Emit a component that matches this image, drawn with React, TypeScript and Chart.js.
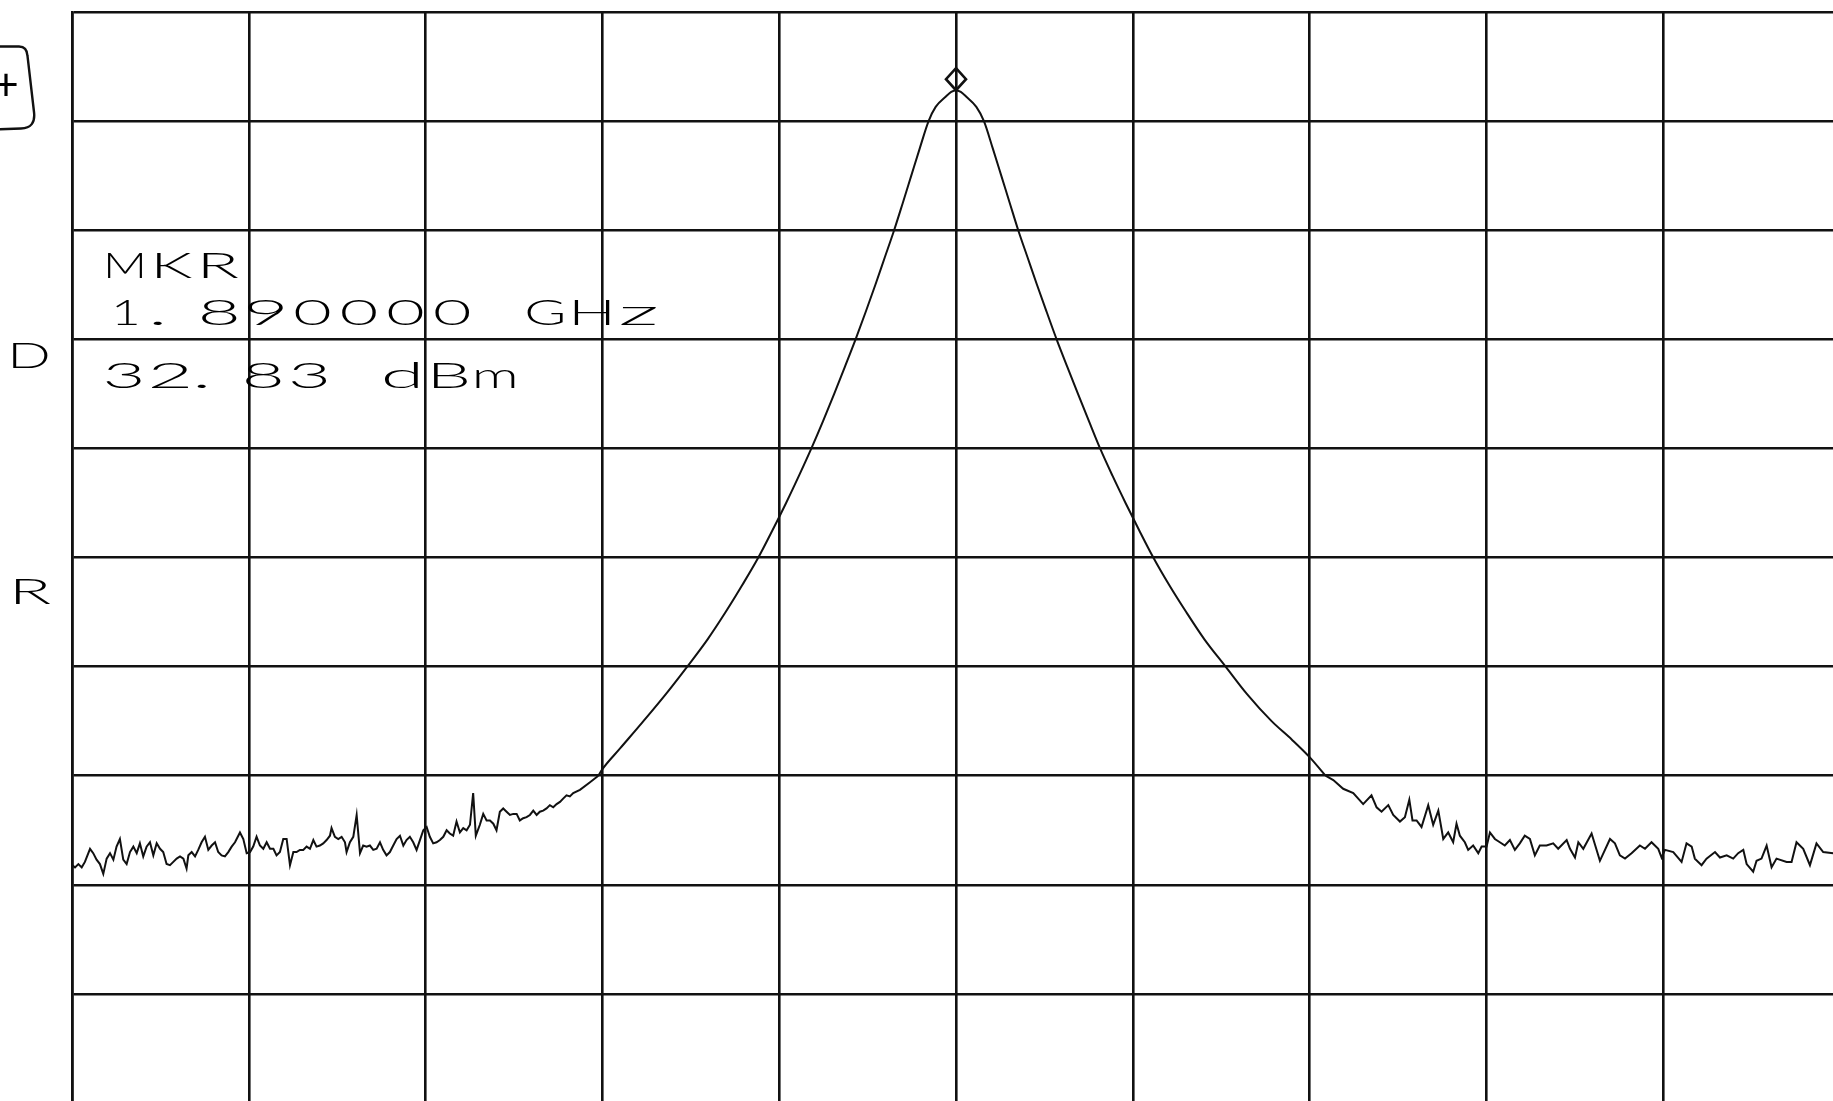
import React, { useEffect, useRef } from "react";
import { Chart, registerables } from "chart.js";

Chart.register(...registerables);

// Horizontal position in graticule divisions (0..10), centre = 1.890000 GHz
const divisions: number[] = [
  0.000, 0.017, 0.036, 0.055, 0.073, 0.102, 0.120, 0.139, 0.158, 0.177,
  0.196, 0.215, 0.234, 0.252, 0.271, 0.290, 0.309, 0.328, 0.347, 0.366,
  0.384, 0.403, 0.422, 0.441, 0.460, 0.479, 0.498, 0.516, 0.535, 0.554,
  0.573, 0.592, 0.611, 0.630, 0.648, 0.658, 0.677, 0.696, 0.714, 0.733,
  0.752, 0.771, 0.790, 0.809, 0.827, 0.846, 0.865, 0.884, 0.903, 0.922,
  0.950, 0.969, 0.988, 1.007, 1.025, 1.044, 1.063, 1.082, 1.101, 1.120,
  1.139, 1.157, 1.176, 1.195, 1.214, 1.233, 1.252, 1.270, 1.289, 1.308,
  1.327, 1.346, 1.365, 1.383, 1.402, 1.421, 1.440, 1.459, 1.468, 1.487,
  1.506, 1.525, 1.544, 1.553, 1.572, 1.591, 1.610, 1.629, 1.647, 1.666,
  1.685, 1.704, 1.723, 1.742, 1.760, 1.779, 1.798, 1.817, 1.836, 1.855,
  1.874, 1.892, 1.911, 1.930, 1.949, 1.968, 1.987, 2.006, 2.024, 2.043,
  2.062, 2.081, 2.100, 2.119, 2.137, 2.156, 2.175, 2.194, 2.213, 2.232,
  2.251, 2.269, 2.284, 2.307, 2.326, 2.345, 2.364, 2.383, 2.401, 2.420,
  2.439, 2.458, 2.477, 2.496, 2.515, 2.533, 2.552, 2.571, 2.590, 2.609,
  2.628, 2.646, 2.665, 2.684, 2.703, 2.722, 2.741, 2.760, 2.778, 2.797,
  2.816, 2.835, 2.873, 2.930, 2.977,
  3.000, 3.100, 3.232, 3.360, 3.480, 3.595, 3.697, 3.792, 3.882, 3.962,
  4.039, 4.112, 4.182, 4.248, 4.311, 4.372, 4.432, 4.489, 4.544, 4.597,
  4.650, 4.699, 4.747, 4.795, 4.845, 4.885, 4.943, 4.973, 5.000,
  5.027, 5.057, 5.115, 5.158, 5.208, 5.256, 5.304, 5.352, 5.405, 5.458,
  5.513, 5.569, 5.629, 5.690, 5.752, 5.815, 5.885, 5.959, 6.036, 6.116,
  6.205, 6.302, 6.405, 6.525, 6.645, 6.785, 6.900, 7.000, 7.090,
  7.134, 7.190, 7.247, 7.303, 7.350, 7.379, 7.407, 7.445, 7.473, 7.511,
  7.539, 7.564, 7.582, 7.605, 7.633, 7.671, 7.699, 7.728, 7.756, 7.784,
  7.812, 7.831, 7.850, 7.878, 7.897, 7.925, 7.954, 7.973, 8.001, 8.020,
  8.048, 8.076, 8.104, 8.133, 8.161, 8.189, 8.217, 8.246, 8.274, 8.302,
  8.340, 8.378, 8.406, 8.454, 8.473, 8.501, 8.520, 8.548, 8.595, 8.642,
  8.699, 8.727, 8.755, 8.784, 8.821, 8.868, 8.897, 8.934, 8.972, 8.991,
  9.010, 9.057, 9.104, 9.132, 9.161, 9.179, 9.217, 9.245, 9.293, 9.321,
  9.359, 9.396, 9.424, 9.453, 9.472, 9.509, 9.528, 9.556, 9.585, 9.613,
  9.641, 9.698, 9.726, 9.754, 9.792, 9.830, 9.867, 9.905, 9.960, 9.990,
];

// Trace level in dBm
const levels: number[] = [
  -38.2, -38.4, -38.1, -38.4, -37.9, -36.7, -37.1, -37.7, -38.1, -39.0,
  -37.6, -37.1, -37.7, -36.5, -35.8, -37.7, -38.1, -37.0, -36.5, -37.1,
  -36.2, -37.4, -36.5, -36.1, -37.3, -36.2, -36.7, -37.0, -38.1, -38.2,
  -37.9, -37.6, -37.4, -37.6, -38.5, -37.3, -37.0, -37.4, -36.8, -36.1,
  -35.6, -36.8, -36.4, -36.1, -37.0, -37.3, -37.4, -37.0, -36.5, -36.1,
  -35.2, -35.8, -37.1, -37.0, -36.5, -35.6, -36.4, -36.7, -36.1, -36.7,
  -36.7, -37.3, -37.0, -35.8, -35.8, -38.2, -37.0, -37.0, -36.8, -36.8,
  -36.5, -36.7, -35.9, -36.5, -36.4, -36.2, -35.9, -35.5, -34.8, -35.6,
  -35.8, -35.6, -36.1, -37.0, -36.1, -35.6, -33.6, -37.1, -36.4, -36.5,
  -36.4, -36.8, -36.7, -36.1, -36.8, -37.3, -37.0, -36.4, -35.8, -35.5,
  -36.4, -35.9, -35.6, -36.1, -36.8, -35.9, -35.0, -34.7, -35.6, -36.2,
  -36.1, -35.9, -35.6, -35.0, -35.3, -35.5, -34.2, -35.2, -34.8, -35.0,
  -34.5, -31.6, -35.5, -34.5, -33.5, -34.1, -34.1, -34.4, -35.0, -33.3,
  -33.0, -33.3, -33.6, -33.5, -33.5, -34.1, -33.9, -33.8, -33.6, -33.2,
  -33.6, -33.3, -33.2, -33.0, -32.7, -32.9, -32.6, -32.4, -32.1, -31.8,
  -31.9, -31.6, -31.3, -30.6, -30.0,
  -29.4, -27.5, -25.0, -22.5, -20.0, -17.5, -15.0, -12.5, -10.0, -7.5,
  -5.0, -2.5, 0.0, 2.5, 5.0, 7.5, 10.0, 12.5, 15.0, 17.5,
  20.0, 22.5, 25.0, 27.5, 30.0, 31.3, 32.25, 32.67, 32.83,
  32.67, 32.25, 31.3, 30.0, 27.5, 25.0, 22.5, 20.0, 17.5, 15.0,
  12.5, 10.0, 7.5, 5.0, 2.5, 0.0, -2.5, -5.0, -7.5, -10.0,
  -12.5, -15.0, -17.5, -20.0, -22.5, -25.0, -26.7, -28.3, -30.0,
  -30.4, -31.2, -31.6, -32.6, -31.8, -32.9, -33.3, -32.7, -33.6, -34.2,
  -33.8, -32.2, -34.1, -34.1, -34.7, -32.7, -34.5, -33.2, -35.8, -35.2,
  -36.1, -34.4, -35.5, -36.1, -36.8, -36.4, -37.1, -36.5, -36.5, -35.2,
  -35.8, -36.1, -36.4, -35.9, -36.8, -36.2, -35.5, -35.8, -37.3, -36.4,
  -36.4, -36.2, -36.7, -35.9, -36.7, -37.5, -36.1, -36.7, -35.3, -37.8,
  -35.8, -36.2, -37.3, -37.6, -37.1, -36.4, -36.7, -36.1, -36.7, -37.5,
  -36.8, -37.0, -37.9, -36.2, -36.5, -37.6, -38.2, -37.6, -37.0, -37.5,
  -37.3, -37.6, -37.1, -36.8, -38.1, -38.8, -37.8, -37.6, -36.4, -38.4,
  -37.6, -37.9, -37.9, -36.1, -36.7, -38.2, -36.2, -37.0, -37.1, -36.9,
];

// Where the smooth signal skirt starts and ends (divisions)
const skirtStart = 2.977;
const skirtEnd = 7.09;

const markerDivision: number[] = [5];
const markerLevel: number[] = [32.83];
const markerText: string[] = ["MKR", "1.890000 GHz", "32.83 dBm"];
const sideLabels: string[] = ["D", "R"];
const boxLabel = "+";
const referenceLevel = 40; // dBm, top graticule line
const dbPerDivision = 10;
const divisionCount = 10;

const FONT = "300 35px Lato, Inter, 'DejaVu Sans', sans-serif";

function drawPlotterText(
  ctx: CanvasRenderingContext2D,
  text: string,
  firstCenter: number,
  baseline: number,
  pitch: number
) {
  ctx.save();
  ctx.font = FONT;
  ctx.fillStyle = "#000";
  ctx.textAlign = "center";
  ctx.textBaseline = "alphabetic";
  for (let i = 0; i < text.length; i++) {
    const ch = text[i];
    if (ch === " ") continue;
    const m = ctx.measureText(ch);
    const w = Math.max(1, m.actualBoundingBoxLeft + m.actualBoundingBoxRight);
    let target = 36;
    let dx = 0;
    if (ch === "1") target = 22;
    if (ch === ".") {
      target = 10;
      dx = -15;
    }
    if (ch === "z" || ch === "m") target = 40;
    const sx = Math.min(2.6, target / w);
    ctx.save();
    ctx.translate(firstCenter + i * pitch + dx, baseline);
    ctx.scale(sx, 1);
    ctx.fillText(ch, 0, 0);
    ctx.restore();
  }
  ctx.restore();
}

export default function App() {
  const ref = useRef<HTMLCanvasElement>(null);

  useEffect(() => {
    const canvas = ref.current;
    if (!canvas) return;

    const points = divisions.map((d, i) => ({ x: d, y: levels[i] }));
    const iStart = divisions.findIndex((d) => d >= skirtStart);
    const iEnd = divisions.findIndex((d) => d >= skirtEnd);

    const traceStyle = {
      borderColor: "#111",
      borderWidth: 2,
      pointRadius: 0,
      fill: false,
    };

    const decorations = {
      id: "decorations",
      afterDatasetsDraw(chart: any) {
        const ctx: CanvasRenderingContext2D = chart.ctx;
        // marker diamond sitting on the peak
        const meta = chart.getDatasetMeta(3);
        const pt = meta.data[0];
        if (pt) {
          const cx = pt.x;
          const cy = pt.y - 11;
          ctx.save();
          ctx.strokeStyle = "#111";
          ctx.lineWidth = 2.6;
          ctx.beginPath();
          ctx.moveTo(cx, cy - 11);
          ctx.lineTo(cx + 10, cy);
          ctx.lineTo(cx, cy + 11);
          ctx.lineTo(cx - 10, cy);
          ctx.closePath();
          ctx.stroke();
          ctx.restore();
        }
        // marker readout
        drawPlotterText(ctx, markerText[0], 125, 278, 46.4);
        drawPlotterText(ctx, markerText[1], 126, 325, 46.6);
        drawPlotterText(ctx, markerText[2], 124, 388, 46.4);
        // side labels
        drawPlotterText(ctx, sideLabels[0], 29, 368, 46);
        drawPlotterText(ctx, sideLabels[1], 30, 604, 46);
        // hand-drawn box with "+"
        ctx.save();
        ctx.strokeStyle = "#111";
        ctx.lineWidth = 2.4;
        ctx.beginPath();
        ctx.moveTo(-5, 46.5);
        ctx.lineTo(19, 46.5);
        ctx.quadraticCurveTo(27, 46.5, 27.5, 56);
        ctx.lineTo(34, 112);
        ctx.quadraticCurveTo(36, 128, 21, 128.5);
        ctx.lineTo(-5, 129.5);
        ctx.stroke();
        ctx.font = "400 44px Lato, 'DejaVu Sans', sans-serif";
        ctx.fillStyle = "#000";
        ctx.textAlign = "center";
        ctx.textBaseline = "middle";
        ctx.fillText(boxLabel, 6, 86);
        ctx.restore();
      },
    };

    const chart = new Chart(canvas, {
      type: "line",
      data: {
        datasets: [
          {
            label: "Trace (noise, low side)",
            data: points.slice(0, iStart + 1),
            tension: 0,
            ...traceStyle,
          },
          {
            label: "Trace (signal)",
            data: points.slice(iStart, iEnd + 1),
            cubicInterpolationMode: "monotone",
            ...traceStyle,
          },
          {
            label: "Trace (noise, high side)",
            data: points.slice(iEnd),
            tension: 0,
            ...traceStyle,
          },
          {
            label: "Marker",
            data: markerDivision.map((d, i) => ({ x: d, y: markerLevel[i] })),
            showLine: false,
            pointRadius: 0,
            borderColor: "#111",
          },
        ],
      },
      options: {
        responsive: false,
        maintainAspectRatio: false,
        devicePixelRatio: 1,
        animation: false,
        events: [],
        layout: { padding: { left: 72, top: 12, right: 10, bottom: 9 } },
        plugins: {
          legend: { display: false },
          tooltip: { enabled: false },
          title: { display: false },
        },
        scales: {
          x: {
            type: "linear",
            min: 0,
            max: divisionCount,
            ticks: { display: false, stepSize: 1 },
            grid: { color: "#111", lineWidth: 2.6, drawTicks: false },
            border: { display: true, color: "#111", width: 2.6 },
          },
          y: {
            type: "linear",
            min: referenceLevel - dbPerDivision * divisionCount,
            max: referenceLevel,
            ticks: { display: false, stepSize: dbPerDivision },
            grid: { color: "#111", lineWidth: 2.6, drawTicks: false },
            border: { display: true, color: "#111", width: 2.6 },
          },
        },
      },
      plugins: [decorations],
    });

    return () => chart.destroy();
  }, []);

  return (
    <div
      style={{
        position: "fixed",
        left: 0,
        top: 0,
        width: 1833,
        height: 1101,
        overflow: "hidden",
        background: "#fff",
      }}
    >
      <canvas
        ref={ref}
        width={1850}
        height={1112}
        style={{ display: "block", width: 1850, height: 1112 }}
      />
    </div>
  );
}
